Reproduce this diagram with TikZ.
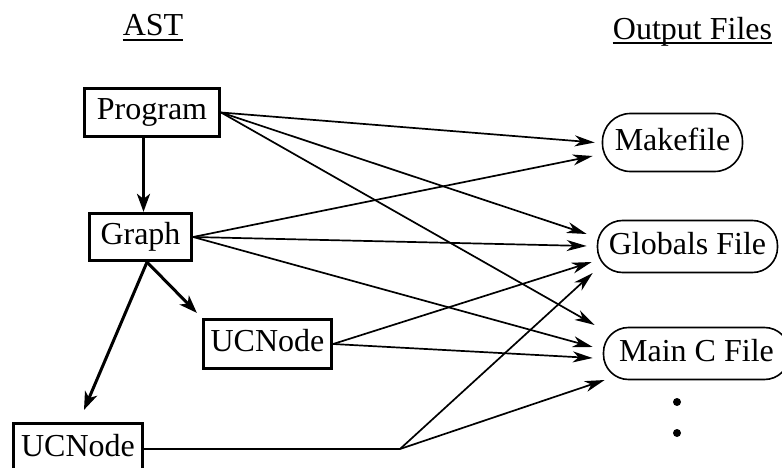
\documentclass[tikz,border=0pt]{standalone}
\usepackage{fontspec}
\setmainfont{Liberation Serif}
\usetikzlibrary{arrows.meta,calc}
\begin{document}
\begin{tikzpicture}[x=1pt,y=-1pt,
  every node/.style={font=\fontsize{32}{38}\selectfont, inner sep=0pt},
  astbox/.style={draw, line width=3.2pt, rectangle, text height=22pt, text depth=7pt},
  filebox/.style={draw, line width=1.6pt, rectangle, rounded corners=25pt,
                  minimum height=52pt, text height=22pt, text depth=7pt},
  link/.style={line width=1.7pt, -{Stealth[length=20pt,width=11pt,inset=6pt]}},
  tree/.style={line width=3pt, -{Stealth[length=18pt,width=13pt,inset=5pt]}},
  uline/.style={line width=1.4pt}
]
\useasboundingbox (0,0) rectangle (782,468);

% column titles
\node[anchor=base] (ast) at (153,36) {AST};
\draw[uline] ($(ast.base west)+(0,4)$) -- ($(ast.base east)+(0,4)$);
\node[anchor=base] (out) at (692.5,40) {Output Files};
\draw[uline] ($(out.base west)+(0,3)$) -- ($(out.base east)+(0,3)$);

% AST nodes
\node[astbox, minimum width=135pt, minimum height=48pt] (prog) at (152,112.5) {Program};
\node[astbox, minimum width=102pt, minimum height=47pt] (graph) at (140.5,237) {Graph};
\node[astbox, minimum width=128pt, minimum height=49pt] (uc1) at (267.5,344) {UCNode};
\node[astbox, minimum width=129pt, minimum height=51pt] (uc2) at (78,449) {UCNode};

% output files
\node[filebox, minimum width=140pt, minimum height=58pt, rounded corners=28pt] (mk) at (672.5,142.5) {Makefile};
\node[filebox, minimum width=180pt] (gl) at (687.5,246.5) {Globals File};
\node[filebox, minimum width=186pt] (mc) at (696.5,353.5) {Main C File};

% more files follow
\fill (677,402) circle (4pt);
\fill (677,433) circle (4pt);

% tree edges
\draw[tree] ([xshift=-8.5pt]prog.south) -- ([xshift=-8.5pt]prog.south |- graph.north);
\draw[tree] ([xshift=6.5pt]graph.south) -- ($(uc1.north west)+(-5,-5)$);
\draw[tree] ([xshift=6.5pt]graph.south) -- ($(uc2.north)+(6,-12)$);

% generation links
\draw[link] (prog.east) -- ($(mk.west)+(-7,0)$);
\draw[link] (prog.east) -- ($(gl.west)+(-10,-12.5)$);
\draw[link] (prog.east) -- ($(mc.west)+(-8,-28.5)$);
\draw[link] (graph.east) -- ($(mk.west)+(-9,13.5)$);
\draw[link] (graph.east) -- ($(gl.west)+(-10,-0.5)$);
\draw[link] (graph.east) -- ($(mc.west)+(-10,-6.5)$);
\draw[link] (uc1.east) -- ($(gl.west)+(-5,15.5)$);
\draw[link] (uc1.east) -- ($(mc.west)+(-10,4.5)$);
\coordinate (jn) at (400,449);
\draw[line width=1.7pt] (uc2.east) -- (jn);
\draw[link] (jn) -- ($(gl.west)+(-4,26.5)$);
\draw[link] (jn) -- ($(mc.west)+(2,26.5)$);
\end{tikzpicture}
\end{document}
